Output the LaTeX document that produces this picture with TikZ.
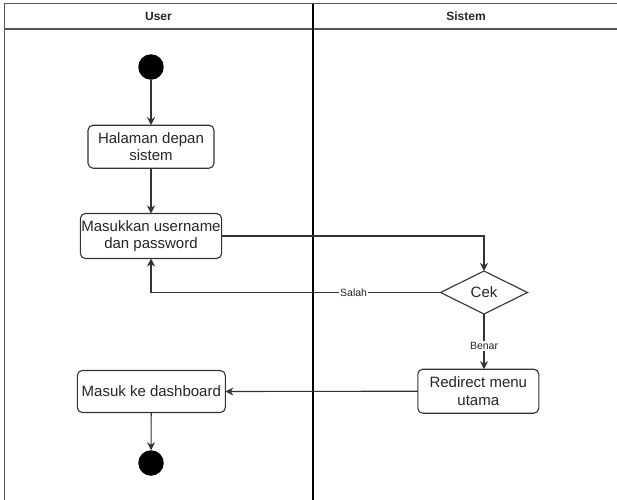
\documentclass[tikz,border=0pt]{standalone}
\usepackage{fontspec}
\setmainfont{Liberation Sans}
\usetikzlibrary{shapes.geometric,arrows.meta}
\definecolor{edge}{HTML}{333333}
\definecolor{txt}{HTML}{262626}
\definecolor{lane}{HTML}{555555}

\begin{document}
\begin{tikzpicture}[x=1pt,y=-1pt,
  every node/.style={outer sep=0pt, text=txt},
  act/.style={draw=edge, line width=1.1pt, rounded corners=5pt, align=center, inner sep=1pt, font=\fontsize{15}{17.3}\selectfont},
  dot/.style={circle, fill=black, minimum size=25.5pt, inner sep=0pt},
  cekbox/.style={diamond, draw=edge, line width=1.1pt, inner sep=0pt, font=\fontsize{15}{17.3}\selectfont},
  head/.style={font=\fontsize{12}{14}\selectfont\bfseries},
  lbl/.style={fill=white, inner sep=1pt, font=\fontsize{10.5}{12}\selectfont},
  arr/.style={draw=edge, line width=1.1pt, -{Stealth[length=8pt,width=8pt,inset=2.5pt]}}]
\useasboundingbox (0,0) rectangle (617,499);
\fill[white] (0,0) rectangle (617,499);

\draw[lane, line width=1.6pt] (4.5,3.5) rectangle (619,505);
\draw[lane, line width=1.6pt] (4.5,29) -- (619,29);
\draw[black, line width=1.4pt] (313,3.5) -- (313,505);
\node[head] (user) at (158.5,16.5) {User};
\node[head] (sistem) at (466,16.5) {Sistem};

\node[dot] (start) at (151,67) {};
\node[act, minimum width=126, minimum height=43] (halaman) at (151,146.7) {Halaman depan\\sistem};
\node[act, minimum width=137, minimum height=45] (login) at (151,236) {Masukkan username\\dan password};
\node[cekbox, minimum width=87, minimum height=43] (cek) at (484,292.5) {Cek};
\node[act, minimum width=121, minimum height=44] (redirect) at (478.3,391.2) {Redirect menu\\utama};
\node[act, minimum width=148, minimum height=42] (dashboard) at (151.3,391.5) {Masuk ke dashboard};
\node[dot] (end) at (151,463) {};

\draw[arr] (start) -- (halaman);
\draw[arr] (halaman) -- (login);
\draw[arr] (login.east) -| (cek.north);
\draw[arr] (cek.west) -| node[lbl, pos=0.15] {Salah} (login.south);
\draw[arr] (cek.south) -- node[lbl, pos=0.58] {Benar} (cek.south |- redirect.north);
\draw[arr] (redirect.west) -- (dashboard.east);
\draw[arr] (dashboard) -- (end);
\end{tikzpicture}
\end{document}
